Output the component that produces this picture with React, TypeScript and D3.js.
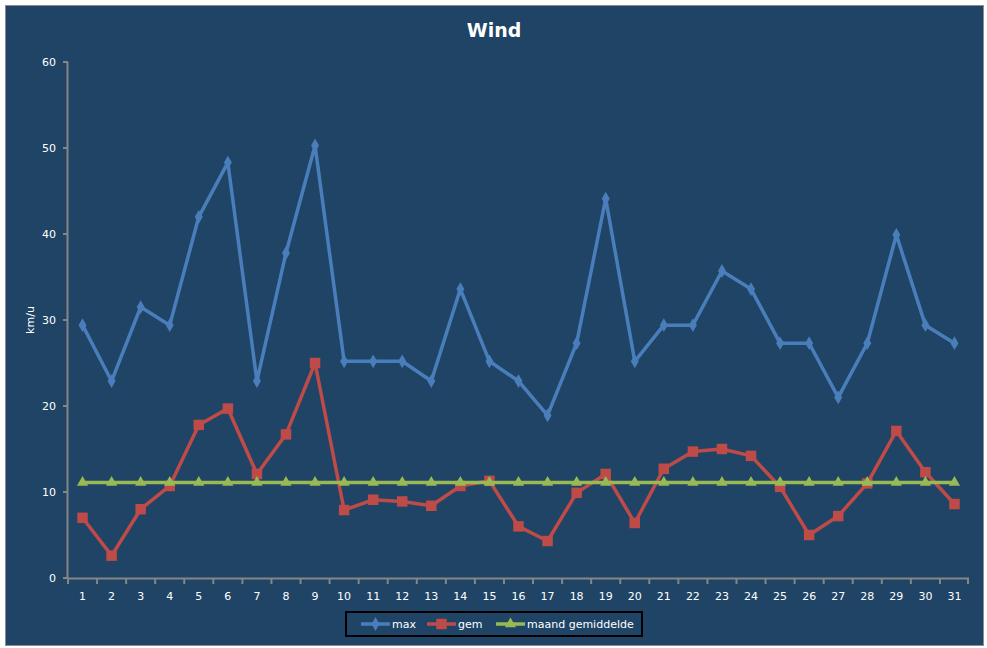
import React, { useRef, useEffect } from 'react';
import * as d3 from 'd3';

const days = [
  '1', '2', '3', '4', '5', '6', '7', '8', '9', '10', '11', '12', '13', '14', '15', '16',
  '17', '18', '19', '20', '21', '22', '23', '24', '25', '26', '27', '28', '29', '30', '31',
];
const maxValues = [
  29.4, 22.9, 31.5, 29.4, 42.0, 48.3, 22.9, 37.8, 50.3, 25.2, 25.2, 25.2, 22.9, 33.6, 25.2, 22.9,
  18.9, 27.3, 44.1, 25.2, 29.4, 29.4, 35.7, 33.6, 27.3, 27.3, 21.0, 27.3, 39.9, 29.4, 27.3,
];
const gemValues = [
  7.0, 2.6, 8.0, 10.7, 17.8, 19.7, 12.1, 16.7, 25.0, 7.9, 9.1, 8.9, 8.4, 10.7, 11.3, 6.0,
  4.3, 9.9, 12.1, 6.4, 12.7, 14.7, 15.0, 14.2, 10.6, 5.0, 7.2, 11.0, 17.1, 12.3, 8.6,
];
const monthAvg = [
  11.1, 11.1, 11.1, 11.1, 11.1, 11.1, 11.1, 11.1, 11.1, 11.1, 11.1, 11.1, 11.1, 11.1, 11.1, 11.1,
  11.1, 11.1, 11.1, 11.1, 11.1, 11.1, 11.1, 11.1, 11.1, 11.1, 11.1, 11.1, 11.1, 11.1, 11.1,
];
const yTicks = [0, 10, 20, 30, 40, 50, 60];

const series = [
  { name: 'max', values: maxValues, color: '#4A7EBB', symbol: d3.symbolDiamond, size: 55 },
  { name: 'gem', values: gemValues, color: '#BE4B48', symbol: d3.symbolSquare, size: 110 },
  { name: 'maand gemiddelde', values: monthAvg, color: '#98B954', symbol: d3.symbolTriangle, size: 55 },
];

const W = 987;
const H = 648;
const font = '"DejaVu Sans", Verdana, sans-serif';

export default function App() {
  const svgRef = useRef<SVGSVGElement>(null);

  useEffect(() => {
    const svg = d3.select(svgRef.current);
    svg.selectAll('*').remove();

    // background + frame
    svg.append('rect').attr('width', W).attr('height', H).attr('fill', '#ffffff');
    svg.append('rect').attr('x', 5.5).attr('y', 5.5).attr('width', 978).attr('height', 640)
      .attr('fill', '#1F4466').attr('stroke', '#8c8c8c').attr('stroke-width', 1);

    const x = d3.scaleBand<string>().domain(days).range([68, 969]);
    const y = d3.scaleLinear().domain([0, 60]).range([578, 62]);
    const cx = (i: number) => (x(days[i]) ?? 0) + x.bandwidth() / 2;

    svg.append('text')
      .attr('x', 494).attr('y', 37).attr('text-anchor', 'middle')
      .attr('fill', '#ffffff').attr('font-family', font).attr('font-weight', 'bold')
      .attr('font-size', 19).text('Wind');

    // axes
    const axisColor = '#868686';
    svg.append('line').attr('x1', 67.5).attr('x2', 67.5).attr('y1', y(60)).attr('y2', y(0))
      .attr('stroke', axisColor).attr('stroke-width', 2);
    svg.append('line').attr('x1', 67).attr('x2', 969).attr('y1', 578.5).attr('y2', 578.5)
      .attr('stroke', axisColor).attr('stroke-width', 2);

    yTicks.forEach((t) => {
      svg.append('line').attr('x1', 63).attr('x2', 68).attr('y1', y(t)).attr('y2', y(t))
        .attr('stroke', axisColor).attr('stroke-width', 2);
      svg.append('text')
        .attr('x', 56).attr('y', y(t) + 4).attr('text-anchor', 'end')
        .attr('fill', '#ffffff').attr('font-family', font).attr('font-size', 11)
        .text(t);
    });

    days.forEach((d, i) => {
      const x0 = x(d) ?? 0;
      svg.append('line').attr('x1', x0).attr('x2', x0).attr('y1', 578).attr('y2', 584)
        .attr('stroke', axisColor).attr('stroke-width', 2);
      svg.append('text')
        .attr('x', cx(i)).attr('y', 600).attr('text-anchor', 'middle')
        .attr('fill', '#ffffff').attr('font-family', font).attr('font-size', 11)
        .text(d);
    });
    svg.append('line').attr('x1', 968).attr('x2', 968).attr('y1', 578).attr('y2', 584)
      .attr('stroke', axisColor).attr('stroke-width', 2);

    svg.append('text')
      .attr('transform', 'translate(34,320) rotate(-90)')
      .attr('text-anchor', 'middle')
      .attr('fill', '#ffffff').attr('font-family', font).attr('font-size', 11)
      .text('km/u');

    // series
    const line = d3.line<number>().x((_, i) => cx(i)).y((v) => y(v));
    series.forEach((s) => {
      svg.append('path').datum(s.values).attr('d', line)
        .attr('fill', 'none').attr('stroke', s.color).attr('stroke-width', 3.5)
        .attr('stroke-linejoin', 'round');
      svg.selectAll(null).data(s.values).enter().append('path')
        .attr('d', d3.symbol().type(s.symbol).size(s.size)())
        .attr('transform', (v, i) => `translate(${cx(i)},${y(v)})`)
        .attr('fill', s.color);
    });

    // legend
    svg.append('rect').attr('x', 346).attr('y', 612).attr('width', 296).attr('height', 24)
      .attr('fill', 'none').attr('stroke', '#000000').attr('stroke-width', 2);
    const legendX = [361, 427, 496];
    series.forEach((s, i) => {
      const lx = legendX[i];
      svg.append('line').attr('x1', lx).attr('x2', lx + 29).attr('y1', 624).attr('y2', 624)
        .attr('stroke', s.color).attr('stroke-width', 3.5);
      svg.append('path')
        .attr('d', d3.symbol().type(s.symbol).size(s.size)())
        .attr('transform', `translate(${lx + 14.5},624)`)
        .attr('fill', s.color);
      svg.append('text')
        .attr('x', lx + 31).attr('y', 628)
        .attr('fill', '#ffffff').attr('font-family', font).attr('font-size', 11)
        .text(s.name);
    });
  }, []);

  return (
    <div style={{ position: 'absolute', left: 0, top: 0 }}>
      <svg ref={svgRef} width={W} height={H} style={{ display: 'block' }} />
    </div>
  );
}
